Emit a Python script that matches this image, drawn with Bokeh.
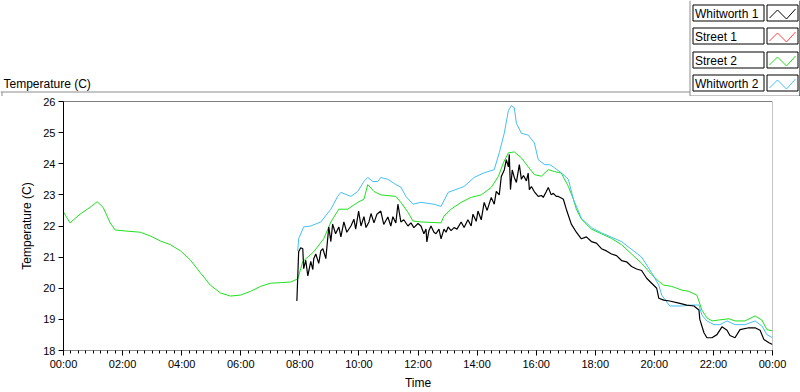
from bokeh.plotting import figure
from bokeh.models import Range1d, FixedTicker, Span
from bokeh.embed import file_html
from bokeh.resources import INLINE
from bokeh.core.properties import value

FONT = "Liberation Sans"

# ---------------- data (hours of day, temperature in C) ----------------
street2_h = [0.0, 0.22, 0.56, 0.90, 1.14, 1.34, 1.58, 1.75, 2.09, 2.60,
             2.94, 3.28, 3.62, 3.96, 4.30, 4.63, 4.97, 5.31, 5.65, 5.99,
             6.33, 6.67, 7.0, 7.34, 7.69, 7.93, 8.10, 8.47, 8.81, 9.05,
             9.32, 9.62, 9.96, 10.17, 10.30, 10.51, 10.74, 11.25, 11.42, 11.66,
             11.83, 12.10, 12.78, 12.88, 13.12, 13.46, 13.80, 14.14, 14.48, 14.72,
             14.89, 15.06, 15.26, 15.50, 15.73, 15.94, 16.18, 16.41, 16.62, 16.85,
             17.09, 17.26, 17.36, 17.53, 17.87, 18.21, 18.55, 18.89, 19.23, 19.57,
             19.91, 20.15, 20.32, 20.59, 20.93, 21.17, 21.44, 21.61, 21.78, 21.95,
             22.19, 22.53, 22.73, 23.07, 23.41, 23.64, 23.81, 24.0]
street2_t = [22.45, 22.1, 22.38, 22.6, 22.78, 22.6, 22.1, 21.87, 21.84, 21.8,
             21.68, 21.52, 21.4, 21.2, 20.9, 20.5, 20.1, 19.85, 19.75, 19.78,
             19.9, 20.06, 20.16, 20.18, 20.2, 20.3, 20.86, 21.17, 21.59, 22.13,
             22.54, 22.54, 22.76, 22.86, 23.33, 23.11, 23.0, 22.95, 22.76, 22.44,
             22.16, 22.13, 22.1, 22.32, 22.54, 22.76, 22.92, 23.0, 23.24, 23.59,
             24.03, 24.35, 24.38, 24.19, 23.9, 23.65, 23.6, 23.81, 23.75, 23.7,
             23.27, 22.86, 22.54, 22.22, 21.9, 21.75, 21.6, 21.4, 21.1, 20.8,
             20.44, 20.22, 20.1, 20.06, 19.94, 19.9, 19.78, 19.3, 19.05, 18.95,
             18.98, 19.02, 18.95, 18.95, 19.11, 18.98, 18.67, 18.63]

whit2_h = [7.93, 7.96, 8.13, 8.37, 8.71, 9.05, 9.28, 9.39, 9.73, 9.96,
           10.17, 10.30, 10.47, 10.64, 10.74, 10.98, 11.25, 11.42, 11.59, 11.83,
           12.10, 12.54, 12.78, 13.02, 13.22, 13.56, 13.90, 14.24, 14.58, 14.75,
           14.92, 15.06, 15.16, 15.26, 15.33, 15.50, 15.73, 15.94, 16.07, 16.29,
           16.46, 16.62, 16.85, 17.09, 17.26, 17.53, 17.87, 18.21, 18.89, 19.57,
           19.91, 20.15, 20.25, 20.52, 20.93, 21.27, 21.51, 21.61, 21.78, 22.02,
           22.22, 22.46, 22.73, 23.07, 23.41, 23.64, 23.81, 24.0]
whit2_t = [21.2, 21.59, 21.97, 22.0, 22.13, 22.54, 22.95, 23.08, 22.95, 23.11,
           23.43, 23.56, 23.43, 23.43, 23.56, 23.5, 23.33, 23.25, 22.95, 22.7,
           22.76, 22.7, 22.63, 23.08, 23.15, 23.27, 23.56, 23.71, 23.81, 24.35,
           24.98, 25.71, 25.87, 25.8, 25.3, 24.98, 24.92, 24.67, 24.13, 23.97,
           23.97, 23.87, 23.71, 23.5, 22.86, 22.25, 21.95, 21.78, 21.5, 21.0,
           20.5, 20.1, 19.78, 19.43, 19.43, 19.46, 19.46, 19.14, 18.95, 18.83,
           18.83, 18.95, 18.83, 18.83, 18.95, 18.79, 18.51, 18.41]

whit1_h = [7.90, 7.96, 8.03, 8.10, 8.13, 8.20, 8.27, 8.37, 8.44, 8.47,
           8.54, 8.64, 8.71, 8.78, 8.88, 8.98, 9.05, 9.11, 9.21, 9.32,
           9.39, 9.49, 9.59, 9.73, 9.83, 9.89, 9.99, 10.07, 10.17, 10.24,
           10.34, 10.41, 10.51, 10.61, 10.74, 10.84, 10.98, 11.08, 11.15, 11.25,
           11.32, 11.42, 11.52, 11.66, 11.76, 11.86, 12.00, 12.10, 12.20, 12.27,
           12.30, 12.37, 12.44, 12.54, 12.61, 12.71, 12.78, 12.88, 12.95, 13.02,
           13.12, 13.22, 13.32, 13.46, 13.56, 13.69, 13.80, 13.86, 13.97, 14.03,
           14.14, 14.24, 14.34, 14.48, 14.58, 14.65, 14.75, 14.82, 14.92, 14.99,
           15.06, 15.09, 15.13, 15.19, 15.26, 15.33, 15.43, 15.50, 15.57, 15.67,
           15.73, 15.77, 15.84, 15.94, 16.07, 16.18, 16.24, 16.34, 16.41, 16.51,
           16.58, 16.68, 16.75, 16.85, 16.92, 17.02, 17.19, 17.36, 17.53, 17.70,
           17.87, 18.04, 18.21, 18.38, 18.55, 18.72, 18.89, 19.06, 19.23, 19.40,
           19.57, 19.74, 19.91, 20.08, 20.15, 20.32, 20.52, 20.83, 21.10, 21.34,
           21.51, 21.54, 21.68, 21.78, 21.95, 22.12, 22.29, 22.46, 22.56, 22.73,
           22.90, 23.20, 23.41, 23.58, 23.71, 23.88, 24.00]
whit1_t = [19.59, 21.17, 21.3, 21.27, 20.63, 20.9, 20.4, 20.86, 20.6, 20.95,
           21.1, 20.8, 21.2, 21.27, 20.95, 21.97, 21.5, 22.06, 21.75, 21.97,
           21.65, 22.13, 21.8, 22.0, 22.22, 21.9, 22.48, 22.0, 22.3, 21.95,
           22.13, 22.4, 22.1, 22.38, 22.48, 22.05, 22.29, 22.0, 22.3, 22.1,
           22.7, 22.13, 22.2, 22.0, 22.1, 21.95, 22.08, 22.0, 21.75, 21.9,
           21.49, 21.85, 22.0, 21.8, 21.75, 21.9, 21.59, 21.9, 21.8, 21.97,
           21.85, 21.95, 21.9, 22.13, 21.95, 22.2, 22.0, 22.38, 22.15, 22.48,
           22.2, 22.76, 22.5, 22.92, 22.7, 23.11, 23.0, 23.59, 23.8, 24.13,
           23.9, 24.3, 23.17, 23.8, 23.56, 23.4, 23.97, 23.5, 23.62, 23.45,
           23.7, 23.17, 23.27, 23.1, 22.95, 22.98, 22.92, 23.1, 23.24, 23.0,
           23.05, 22.95, 22.95, 22.9, 22.86, 22.54, 22.06, 21.8, 21.59, 21.65,
           21.5, 21.45, 21.27, 21.2, 21.1, 21.05, 20.89, 20.85, 20.7, 20.62,
           20.57, 20.32, 20.16, 20.0, 19.68, 19.62, 19.59, 19.52, 19.46, 19.43,
           19.3, 19.0, 18.57, 18.41, 18.41, 18.51, 18.76, 18.65, 18.48, 18.41,
           18.67, 18.73, 18.73, 18.65, 18.35, 18.25, 18.19]

street1_h = []
street1_t = []

series_names = ["Whitworth 1", "Street 1", "Street 2", "Whitworth 2"]
series_colors = ["#000000", "#ff4040", "#1fe01f", "#45bff5"]

x_ticks = [0, 2, 4, 6, 8, 10, 12, 14, 16, 18, 20, 22, 24]
x_tick_labels = ["00:00", "02:00", "04:00", "06:00", "08:00", "10:00", "12:00",
                 "14:00", "16:00", "18:00", "20:00", "22:00", "00:00"]
y_ticks = [18, 19, 20, 21, 22, 23, 24, 25, 26]

assert len(street2_h) == len(street2_t)
assert len(whit2_h) == len(whit2_t)
assert len(whit1_h) == len(whit1_t)

# ---------------- layout constants ----------------
W = 800
TOP_H = 96
MAIN_H = 296
GRAY = "#8c8c8c"

# ---------------- top strip: caption + legend ----------------
top = figure(width=W, height=TOP_H, x_range=Range1d(0, W), y_range=Range1d(TOP_H, 0),
             output_backend="svg", toolbar_location=None,
             x_axis_location=None, y_axis_location=None, min_border=0)
top.grid.visible = False
top.outline_line_color = None
top.background_fill_color = "white"
top.border_fill_color = "white"

top.text(x=[3], y=[83], text=["Temperature (C)"], text_font=value(FONT),
         text_font_size="12px", text_baseline="alphabetic", text_align="left",
         text_color="black")

LEG_L = 689.5
LEG_B = 95.5
top.line([0, LEG_L], [91.5, 91.5], line_color=GRAY, line_width=1)
top.line([LEG_L, LEG_L], [0, LEG_B], line_color=GRAY, line_width=1)
top.line([LEG_L, W], [LEG_B, LEG_B], line_color=GRAY, line_width=1)
top.line([799.5, 799.5], [0, TOP_H], line_color="black", line_width=1)
top.line([1.5, 1.5], [91.5, TOP_H], line_color=GRAY, line_width=1)

BOX_L, BOX_R = 692.5, 763.5
SW_L, SW_R = 766.5, 797.5
ROW_PITCH = 23.5
ROW_H = 16
for i, (name, col) in enumerate(zip(series_names, series_colors)):
    t0 = int(4 + i * ROW_PITCH) + 0.5
    t1 = t0 + ROW_H
    top.quad(left=[BOX_L], right=[BOX_R], top=[t0], bottom=[t1],
             fill_color="white", line_color="black", line_width=1)
    top.quad(left=[SW_L], right=[SW_R], top=[t0], bottom=[t1],
             fill_color="white", line_color="black", line_width=1)
    top.text(x=[BOX_L + 2], y=[t0 + 8.5], text=[name], text_font=value(FONT),
             text_font_size="12px", text_baseline="alphabetic", text_color="black")
    zx = [SW_L + d for d in (2.5, 10.5, 19.5, 28.5)]
    zy = [t0 + d for d in (13, 5, 14, 4)]
    top.line(zx, zy, line_color=col, line_width=1)

# ---------------- main chart ----------------
main = figure(width=W, height=MAIN_H, x_range=Range1d(0, 24), y_range=Range1d(18, 26),
              output_backend="svg", toolbar_location=None,
              min_border_left=63, min_border_right=28, min_border_top=5,
              min_border_bottom=39)
main.grid.visible = False
main.outline_line_color = None
main.background_fill_color = "white"
main.border_fill_color = "white"

xa = main.xaxis[0]
xa.ticker = FixedTicker(ticks=x_ticks, minor_ticks=[i / 4 for i in range(0, 97)])
xa.major_label_overrides = {t: lab for t, lab in zip(x_ticks, x_tick_labels)}
xa.axis_line_color = GRAY
xa.major_tick_line_color = "black"
xa.minor_tick_line_color = "black"
xa.major_tick_out = 5
xa.major_tick_in = 0
xa.minor_tick_out = 3
xa.minor_tick_in = 0
xa.major_label_standoff = 2
xa.major_label_text_font = FONT
xa.major_label_text_font_size = "11px"
xa.major_label_text_color = "black"
xa.axis_label = "Time"
xa.axis_label_standoff = 3
xa.axis_label_text_font = FONT
xa.axis_label_text_font_size = "12px"
xa.axis_label_text_font_style = "normal"
xa.axis_label_text_color = "black"

ya = main.yaxis[0]
ya.ticker = FixedTicker(ticks=y_ticks, minor_ticks=[])
ya.axis_line_color = "black"
ya.major_tick_line_color = "black"
ya.minor_tick_line_color = None
ya.major_tick_out = 5
ya.major_tick_in = 0
ya.major_label_standoff = 3
ya.major_label_text_font = FONT
ya.major_label_text_font_size = "11px"
ya.major_label_text_color = "black"
ya.axis_label = "Temperature (C)"
ya.axis_label_standoff = 6
ya.axis_label_text_font = FONT
ya.axis_label_text_font_size = "12px"
ya.axis_label_text_font_style = "normal"
ya.axis_label_text_color = "black"

main.add_layout(Span(location=26, dimension="width", line_color="black", line_width=1))
main.add_layout(Span(location=24, dimension="height", line_color=GRAY, line_width=1))

main.line(street2_h, street2_t, line_color=series_colors[2], line_width=1)
main.line(whit2_h, whit2_t, line_color=series_colors[3], line_width=1)
if street1_h:
    main.line(street1_h, street1_t, line_color=series_colors[1], line_width=1)
main.line(whit1_h, whit1_t, line_color=series_colors[0], line_width=1.2)

open("out.html", "w").write(file_html([top, main], INLINE))
